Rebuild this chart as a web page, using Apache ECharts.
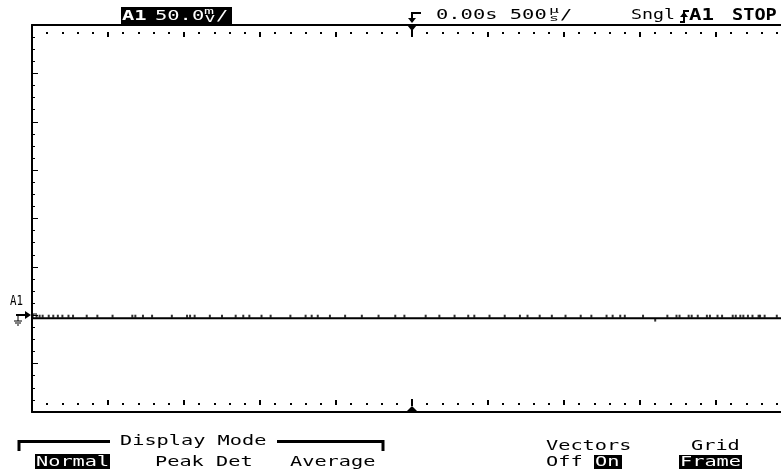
<!DOCTYPE html>
<html>
<head>
<meta charset="utf-8">
<script src="https://cdn.jsdelivr.net/npm/echarts@6/dist/echarts.min.js"></script>
<style>
  html, body { margin: 0; padding: 0; background: #fff; }
  #chart { width: 781px; height: 471px; }
</style>
</head>
<body>
<div id="chart"></div>
<script>
// scope settings: 500 µs/div over 10 div, 50 mV/div over 8 div
const timeMin = -2500, timeMax = 2500, timeStep = 500;
const voltMin = -200, voltMax = 200, voltStep = 50;

// channel A1 trace (flat, near ground)
const traceTime = [-2500, -1250, 0, 1250, 2500];
const traceVolt = [-103, -103, -103, -103, -103];

// single-pixel noise specks sitting on the trace
const noiseUpTime = [
  -2470, -2450, -2430, -2390, -2360, -2330, -2300, -2260, -2230, -2140, -2070,
  -1970, -1840, -1820, -1770, -1710, -1580, -1480, -1460, -1430, -1330, -1250,
  -1160, -1110, -1070, -990, -930, -800, -700, -660, -620, -540, -440, -330,
  -220, -110, -50, 90, 180, 280, 370, 410, 510, 610, 710, 760, 840, 920, 1010,
  1110, 1180, 1280, 1320, 1370, 1400, 1520, 1680, 1740, 1760, 1820, 1840, 1880,
  1940, 1960, 2010, 2040, 2110, 2130, 2160, 2180, 2210, 2240, 2280, 2290, 2320, 2400
];
const noiseUpVolt = -101;
const noiseDownTime = [1600];
const noiseDownVolt = -105;

const MONO = '"DejaVu Sans Mono", monospace';

// stretched mono text to mimic the scope's wide bitmap font
function txt(x, yc, s, adv, size, opt) {
  opt = opt || {};
  return {
    type: 'text', x: x, y: yc, scaleX: adv / (size * 0.602), z: 10,
    style: {
      text: s,
      font: (opt.bold ? 'bold ' : '') + size + 'px ' + MONO,
      fill: opt.fill || '#000',
      textAlign: 'left', textVerticalAlign: 'middle', verticalAlign: 'middle'
    }
  };
}
function box(x, y, w, h) {
  return { type: 'rect', z: 9, shape: { x: x, y: y, width: w, height: h }, style: { fill: '#000' } };
}
function poly(points, fill) {
  return { type: 'polygon', z: 10, shape: { points: points }, style: { fill: fill || '#000' } };
}
function pline(points, w) {
  return { type: 'polyline', z: 10, shape: { points: points }, style: { stroke: '#000', lineWidth: w || 2, fill: null } };
}

const graphics = [
  // top status line
  box(121, 7, 111, 17),
  txt(122, 16, 'A1', 12.3, 14, { bold: true, fill: '#fff' }),
  txt(155, 16, '50.0', 12.3, 14, { fill: '#fff' }),
  txt(204, 12, 'm', 10, 9, { fill: '#fff' }),
  txt(205, 20, 'V', 10, 9, { fill: '#fff' }),
  txt(216, 16, '/', 12.3, 14, { fill: '#fff' }),
  pline([[412, 20], [412, 13], [421, 13]], 2),
  poly([[408, 18], [416, 18], [412, 23]]),
  txt(436, 15, '0.00s 500', 12.3, 14),
  txt(549, 11, 'µ', 10, 9),
  txt(549, 19, 's', 10, 9),
  txt(560, 15, '/', 12.3, 14),
  txt(631, 15, 'Sngl', 11, 14),
  pline([[680, 22], [684, 22], [684, 11], [689, 11]], 2),
  poly([[680, 17], [688, 17], [684, 12]]),
  txt(689, 16, 'A1', 12.5, 16, { bold: true }),
  txt(732, 16, 'STOP', 11.2, 16, { bold: true }),

  // trigger position markers on the graticule
  poly([[407, 25], [417, 25], [412, 31]]),
  pline([[412, 30], [412, 37]], 2),
  poly([[406, 412], [418, 412], [412, 406]]),
  pline([[412, 406], [412, 399]], 2),

  // channel A1 ground marker
  txt(10, 301, 'A1', 6.5, 14),
  pline([[16, 315], [26, 315]], 2),
  poly([[25, 311], [25, 319], [31, 315]]),
  pline([[18, 315], [18, 321]], 1),
  pline([[14, 321], [22, 321]], 1),
  pline([[15, 323], [21, 323]], 1),
  pline([[17, 325], [19, 325]], 1),
  pline([[37, 314], [33, 314], [33, 318]], 1),

  // softkey menu
  pline([[19, 451], [19, 441.5], [110, 441.5]], 3),
  pline([[277, 441.5], [383, 441.5], [383, 451]], 3),
  txt(120, 441, 'Display Mode', 12.2, 14),
  box(35, 454, 75, 15),
  txt(36, 462, 'Normal', 12.2, 14, { fill: '#fff' }),
  txt(155, 462, 'Peak Det', 12.2, 14),
  txt(290, 462, 'Average', 12.2, 14),
  txt(546, 446, 'Vectors', 12.2, 14),
  txt(546, 462, 'Off', 12.2, 14),
  box(594, 455, 28, 14),
  txt(595, 462, 'On', 12.2, 14, { fill: '#fff' }),
  txt(691, 446, 'Grid', 12.2, 14),
  box(679, 455, 63, 14),
  txt(680, 462, 'Frame', 12.2, 14, { fill: '#fff' })
];

const noHide = { show: false };
function frameX(pos) {
  return {
    type: 'value', position: pos, min: timeMin, max: timeMax, interval: timeStep,
    axisLine: { show: true, onZero: false, lineStyle: { color: '#000', width: 2 } },
    axisTick: noHide, axisLabel: noHide, splitLine: noHide
  };
}
function tickRowX(pos) {
  return {
    type: 'value', position: pos, offset: -7, min: timeMin, max: timeMax, interval: timeStep,
    axisLine: { show: false, onZero: false }, axisLabel: noHide, splitLine: noHide,
    axisTick: { show: true, inside: true, length: 5, lineStyle: { color: '#000', width: 2 } },
    minorTick: { show: true, splitNumber: 5, length: 2, lineStyle: { color: '#000', width: 2 } }
  };
}

const chart = echarts.init(document.getElementById('chart'), null, { renderer: 'canvas' });
chart.setOption({
  animation: false,
  backgroundColor: '#fff',
  grid: { left: 32, top: 25, width: 760, height: 387, containLabel: false, outerBoundsMode: 'none' },
  xAxis: [frameX('top'), frameX('bottom'), tickRowX('top'), tickRowX('bottom')],
  yAxis: [{
    type: 'value', position: 'left', min: voltMin, max: voltMax, interval: voltStep,
    axisLine: { show: true, onZero: false, lineStyle: { color: '#000', width: 2 } },
    axisTick: { show: true, inside: true, length: 6, lineStyle: { color: '#000', width: 1 } },
    minorTick: { show: true, splitNumber: 4, length: 3, lineStyle: { color: '#000', width: 1 } },
    axisLabel: noHide, splitLine: noHide
  }],
  series: [
    {
      name: 'A1', type: 'line', xAxisIndex: 0, yAxisIndex: 0, symbol: 'none',
      data: traceTime.map((t, i) => [t, traceVolt[i]]),
      lineStyle: { color: '#000', width: 2 }
    },
    {
      name: 'noise', type: 'scatter', xAxisIndex: 0, yAxisIndex: 0,
      symbol: 'rect', symbolSize: [2, 3], itemStyle: { color: '#000' },
      data: noiseUpTime.map(t => [t, noiseUpVolt]).concat(noiseDownTime.map(t => [t, noiseDownVolt]))
    }
  ],
  graphic: graphics
});
</script>
</body>
</html>
